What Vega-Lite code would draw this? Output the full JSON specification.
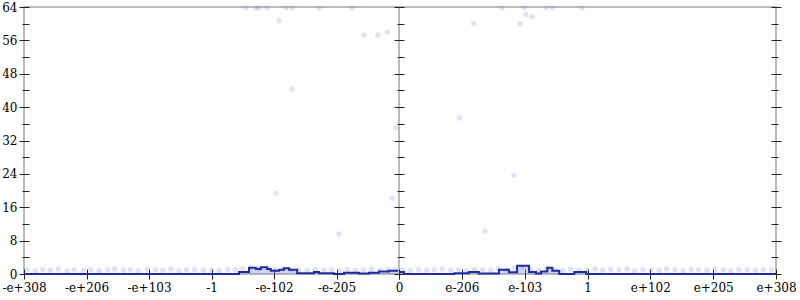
{
"$schema":"https://vega.github.io/schema/vega-lite/v6.json",
"padding":{"left":0,"top":0,"right":0,"bottom":0},
"spacing":0,
"bounds":"flush",
"config":{
 "font":"DejaVu Serif, Liberation Serif, serif",
 "view":{"stroke":"#bbbbbb","strokeWidth":2},
 "concat":{"spacing":0},
 "axis":{"labelFont":"DejaVu Serif, Liberation Serif, serif","labelFontSize":12,"labelColor":"#000000","tickColor":"#222222","tickWidth":1,"domain":false,"grid":false,"title":null,"labelFlush":false,"labelOverlap":false}
},
"datasets":{
 "dots":[
  {"side":"neg","pos":-5.95,"t":1.0},{"side":"neg","pos":-5.82,"t":0.8},{"side":"neg","pos":-5.7,"t":1.1},{"side":"neg","pos":-5.58,"t":0.9},{"side":"neg","pos":-5.45,"t":1.2},{"side":"neg","pos":-5.31,"t":0.7},{"side":"neg","pos":-5.2,"t":1.0},{"side":"neg","pos":-5.05,"t":0.9},{"side":"neg","pos":-4.93,"t":1.1},{"side":"neg","pos":-4.8,"t":0.8},{"side":"neg","pos":-4.66,"t":1.0},{"side":"neg","pos":-4.55,"t":1.2},{"side":"neg","pos":-4.41,"t":0.9},{"side":"neg","pos":-4.3,"t":1.0},{"side":"neg","pos":-4.17,"t":0.8},{"side":"neg","pos":-4.03,"t":1.1},{"side":"neg","pos":-3.9,"t":1.0},{"side":"neg","pos":-3.78,"t":0.9},{"side":"neg","pos":-3.65,"t":1.2},{"side":"neg","pos":-3.52,"t":0.8},{"side":"neg","pos":-3.4,"t":1.0},{"side":"neg","pos":-3.27,"t":1.1},{"side":"neg","pos":-3.13,"t":0.9},{"side":"neg","pos":-3.0,"t":1.0},{"side":"neg","pos":-2.88,"t":0.8},{"side":"neg","pos":-2.74,"t":1.1},{"side":"neg","pos":-2.62,"t":1.0},{"side":"neg","pos":-2.5,"t":1.3},{"side":"neg","pos":-2.37,"t":1.4},{"side":"neg","pos":-2.24,"t":1.2},{"side":"neg","pos":-2.1,"t":1.3},{"side":"neg","pos":-1.98,"t":1.0},{"side":"neg","pos":-1.85,"t":1.2},{"side":"neg","pos":-1.73,"t":0.9},{"side":"neg","pos":-1.6,"t":1.0},{"side":"neg","pos":-1.47,"t":0.8},{"side":"neg","pos":-1.34,"t":1.1},{"side":"neg","pos":-1.2,"t":0.9},{"side":"neg","pos":-1.08,"t":1.0},{"side":"neg","pos":-0.95,"t":0.8},{"side":"neg","pos":-0.83,"t":1.1},{"side":"neg","pos":-0.7,"t":0.9},{"side":"neg","pos":-0.57,"t":1.0},{"side":"neg","pos":-0.44,"t":1.2},{"side":"neg","pos":-0.3,"t":0.9},{"side":"neg","pos":-0.18,"t":1.1},{"side":"neg","pos":-0.06,"t":1.0},
  {"side":"neg","pos":-2.45,"t":63.8},{"side":"neg","pos":-2.29,"t":63.8},{"side":"neg","pos":-2.24,"t":63.8},{"side":"neg","pos":-2.11,"t":63.8},{"side":"neg","pos":-1.81,"t":63.8},{"side":"neg","pos":-1.71,"t":63.8},{"side":"neg","pos":-1.28,"t":63.8},{"side":"neg","pos":-0.75,"t":63.8},{"side":"neg","pos":-1.92,"t":60.7},{"side":"neg","pos":-0.56,"t":57.3},{"side":"neg","pos":-0.34,"t":57.3},{"side":"neg","pos":-0.19,"t":58.0},{"side":"neg","pos":-1.71,"t":44.3},{"side":"neg","pos":-0.05,"t":35.0},{"side":"neg","pos":-1.97,"t":19.4},{"side":"neg","pos":-0.96,"t":9.6},{"side":"neg","pos":-0.11,"t":18.2},
  {"side":"pos","pos":0.06,"t":1.0},{"side":"pos","pos":0.18,"t":0.8},{"side":"pos","pos":0.31,"t":1.1},{"side":"pos","pos":0.44,"t":0.9},{"side":"pos","pos":0.56,"t":1.0},{"side":"pos","pos":0.69,"t":1.2},{"side":"pos","pos":0.82,"t":0.9},{"side":"pos","pos":0.95,"t":1.0},{"side":"pos","pos":1.07,"t":0.8},{"side":"pos","pos":1.2,"t":1.1},{"side":"pos","pos":1.33,"t":1.0},{"side":"pos","pos":1.46,"t":0.9},{"side":"pos","pos":1.58,"t":1.3},{"side":"pos","pos":1.71,"t":1.0},{"side":"pos","pos":1.84,"t":1.4},{"side":"pos","pos":1.97,"t":1.5},{"side":"pos","pos":2.1,"t":1.0},{"side":"pos","pos":2.22,"t":0.9},{"side":"pos","pos":2.35,"t":1.3},{"side":"pos","pos":2.48,"t":1.0},{"side":"pos","pos":2.61,"t":0.8},{"side":"pos","pos":2.73,"t":1.1},{"side":"pos","pos":2.86,"t":0.9},{"side":"pos","pos":2.99,"t":1.0},{"side":"pos","pos":3.12,"t":1.2},{"side":"pos","pos":3.24,"t":0.9},{"side":"pos","pos":3.37,"t":1.1},{"side":"pos","pos":3.5,"t":1.0},{"side":"pos","pos":3.63,"t":1.2},{"side":"pos","pos":3.75,"t":0.8},{"side":"pos","pos":3.88,"t":1.1},{"side":"pos","pos":4.01,"t":1.0},{"side":"pos","pos":4.14,"t":0.9},{"side":"pos","pos":4.26,"t":1.2},{"side":"pos","pos":4.39,"t":1.0},{"side":"pos","pos":4.52,"t":0.8},{"side":"pos","pos":4.65,"t":1.1},{"side":"pos","pos":4.77,"t":1.0},{"side":"pos","pos":4.9,"t":0.9},{"side":"pos","pos":5.03,"t":1.2},{"side":"pos","pos":5.16,"t":1.0},{"side":"pos","pos":5.28,"t":0.8},{"side":"pos","pos":5.41,"t":1.1},{"side":"pos","pos":5.54,"t":1.0},{"side":"pos","pos":5.67,"t":0.9},{"side":"pos","pos":5.8,"t":1.1},{"side":"pos","pos":5.93,"t":1.0},
  {"side":"pos","pos":1.64,"t":63.8},{"side":"pos","pos":1.99,"t":63.8},{"side":"pos","pos":2.34,"t":63.8},{"side":"pos","pos":2.44,"t":63.8},{"side":"pos","pos":2.91,"t":63.8},{"side":"pos","pos":1.19,"t":60.0},{"side":"pos","pos":1.93,"t":60.0},{"side":"pos","pos":2.02,"t":62.2},{"side":"pos","pos":2.12,"t":61.7},{"side":"pos","pos":0.96,"t":37.4},{"side":"pos","pos":1.83,"t":23.7},{"side":"pos","pos":1.37,"t":10.3}
 ],
 "line":[
  {"side":"neg","pos":-6,"t":0},{"side":"neg","pos":-2.56,"t":0.5},{"side":"neg","pos":-2.4,"t":1.5},{"side":"neg","pos":-2.29,"t":1.2},{"side":"neg","pos":-2.21,"t":1.6},{"side":"neg","pos":-2.11,"t":1.2},{"side":"neg","pos":-2.05,"t":0.8},{"side":"neg","pos":-1.92,"t":1.0},{"side":"neg","pos":-1.84,"t":1.4},{"side":"neg","pos":-1.76,"t":1.0},{"side":"neg","pos":-1.63,"t":0.2},{"side":"neg","pos":-1.36,"t":0.5},{"side":"neg","pos":-1.28,"t":0.2},{"side":"neg","pos":-1.04,"t":0},{"side":"neg","pos":-0.88,"t":0.3},{"side":"neg","pos":-0.64,"t":0.1},{"side":"neg","pos":-0.48,"t":0.3},{"side":"neg","pos":-0.32,"t":0.6},{"side":"neg","pos":-0.16,"t":0.8},{"side":"neg","pos":0,"t":0.8},
  {"side":"pos","pos":0,"t":0.5},{"side":"pos","pos":0.08,"t":0},{"side":"pos","pos":0.88,"t":0.2},{"side":"pos","pos":1.11,"t":0.5},{"side":"pos","pos":1.27,"t":0.1},{"side":"pos","pos":1.59,"t":1.0},{"side":"pos","pos":1.75,"t":0.4},{"side":"pos","pos":1.88,"t":2.0},{"side":"pos","pos":2.07,"t":0.5},{"side":"pos","pos":2.18,"t":0.1},{"side":"pos","pos":2.26,"t":0.6},{"side":"pos","pos":2.36,"t":1.5},{"side":"pos","pos":2.44,"t":0.8},{"side":"pos","pos":2.55,"t":0},{"side":"pos","pos":2.79,"t":0.5},{"side":"pos","pos":2.98,"t":0},{"side":"pos","pos":6,"t":0}
 ]
},
"hconcat":[
 {"width":375,"height":267,
  "encoding":{
   "x":{"field":"pos","type":"quantitative","scale":{"domain":[-6,0],"nice":false,"zero":false},
        "axis":{"orient":"bottom","values":[-6,-5,-4,-3,-2,-1,0],"offset":-5,"tickSize":10,"labelPadding":3,
                "labelExpr":"{'-6':'-e+308','-5':'-e+206','-4':'-e+103','-3':'-1','-2':'-e-102','-1':'-e-205','0':'0'}[datum.value+'']"}},
   "y":{"field":"t","type":"quantitative","scale":{"domain":[0,64],"nice":false},
        "axis":{"orient":"left","values":[0,4,8,12,16,20,24,28,32,36,40,44,48,52,56,60,64],"offset":-5,
                "tickSize":{"condition":{"test":"datum.value % 8 === 0","value":10},"value":7},
                "labelPadding":2,"labelExpr":"datum.value % 8 === 0 ? datum.label : ''"}}
  },
  "layer":[
   {"data":{"name":"dots"},"transform":[{"filter":"datum.side === 'neg'"}],
    "mark":{"type":"circle","size":28,"color":"#7f89e8","opacity":0.25}},
   {"data":{"name":"line"},"transform":[{"filter":"datum.side === 'neg'"}],
    "mark":{"type":"area","interpolate":"step-after","color":"#7d86e6","opacity":0.35}},
   {"data":{"name":"line"},"transform":[{"filter":"datum.side === 'neg'"}],
    "mark":{"type":"line","interpolate":"step-after","color":"#1f2b9e","strokeWidth":2}}
  ]
 },
 {"width":377,"height":267,
  "resolve":{"axis":{"y":"independent"}},
  "encoding":{
   "x":{"field":"pos","type":"quantitative","scale":{"domain":[0,6],"nice":false,"zero":false},
        "axis":{"orient":"bottom","values":[0,1,2,3,4,5,6],"offset":-5,"tickSize":10,"labelPadding":3,
                "labelExpr":"{'0':'','1':'e-206','2':'e-103','3':'1','4':'e+102','5':'e+205','6':'e+308'}[datum.value+'']"}}
  },
  "layer":[
   {"data":{"name":"dots"},"transform":[{"filter":"datum.side === 'pos'"}],
    "mark":{"type":"circle","size":28,"color":"#7f89e8","opacity":0.25},
    "encoding":{"y":{"field":"t","type":"quantitative","scale":{"domain":[0,64],"nice":false},
        "axis":{"orient":"left","values":[0,4,8,12,16,20,24,28,32,36,40,44,48,52,56,60,64],"offset":-5,"labels":false,
                "tickSize":{"condition":{"test":"datum.value % 8 === 0","value":10},"value":7}}}}},
   {"data":{"name":"line"},"transform":[{"filter":"datum.side === 'pos'"}],
    "mark":{"type":"area","interpolate":"step-after","color":"#7d86e6","opacity":0.35},
    "encoding":{"y":{"field":"t","type":"quantitative","scale":{"domain":[0,64],"nice":false},
        "axis":{"orient":"right","values":[0,4,8,12,16,20,24,28,32,36,40,44,48,52,56,60,64],"offset":-5,"labels":false,
                "tickSize":{"condition":{"test":"datum.value % 8 === 0","value":10},"value":7}}}}},
   {"data":{"name":"line"},"transform":[{"filter":"datum.side === 'pos'"}],
    "mark":{"type":"line","interpolate":"step-after","color":"#1f2b9e","strokeWidth":2},
    "encoding":{"y":{"field":"t","type":"quantitative","scale":{"domain":[0,64],"nice":false},"axis":null}}}
  ]
 }
]
}
